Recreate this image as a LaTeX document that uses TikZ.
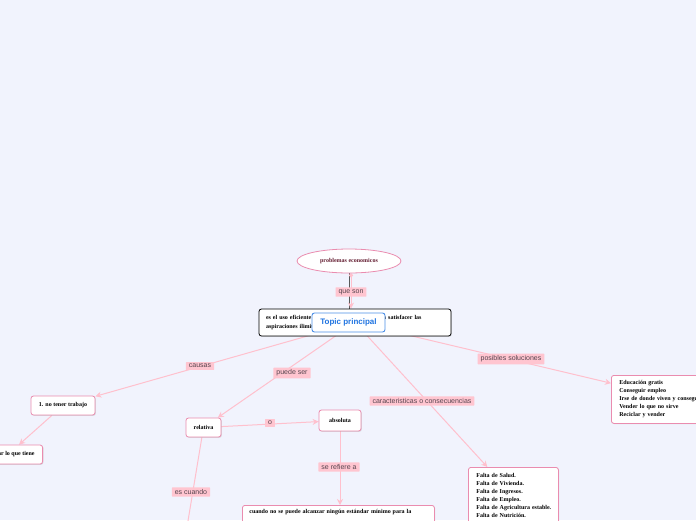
\documentclass[tikz,border=0pt]{standalone}
\usepackage{fontspec}
\setmainfont{Liberation Serif}
\setsansfont{Liberation Sans}
\usetikzlibrary{shapes.geometric,arrows.meta,shadows}
\definecolor{bgc}{RGB}{241,243,253}
\definecolor{pinkline}{RGB}{255,192,205}
\definecolor{nodeborder}{RGB}{234,140,175}
\definecolor{labelfill}{RGB}{255,197,208}
\definecolor{labeltext}{RGB}{85,68,78}
\definecolor{ellitext}{RGB}{100,30,50}
\definecolor{topicblue}{RGB}{30,115,225}
\pgfdeclarelayer{bglayer}
\pgfdeclarelayer{background}
\pgfsetlayers{bglayer,background,main}
\tikzset{
  mm/.style={draw=nodeborder, fill=white, rounded corners=2.5pt, line width=0.8pt,
    font=\fontsize{6}{8}\selectfont\bfseries, text=black,
    drop shadow={opacity=0.25, shadow xshift=0.8pt, shadow yshift=-0.8pt}},
  lbl/.style={fill=labelfill, text=labeltext, font=\sffamily\fontsize{7}{8}\selectfont,
    inner xsep=3pt, inner ysep=2pt, rounded corners=0.5pt},
  conn/.style={draw=pinkline, line width=1pt, -{Stealth[length=6pt,width=6pt]}},
  plainconn/.style={draw=pinkline, line width=1pt},
}
\begin{document}
\begin{tikzpicture}[x=1pt,y=-1pt]
\useasboundingbox (0,0) rectangle (696,520);
\begin{pgfonlayer}{bglayer}
\fill[bgc] (0,0) rectangle (696,520);
\end{pgfonlayer}

% nodes
\node[ellipse, draw=nodeborder, fill=white, line width=0.8pt, minimum width=104pt, minimum height=24pt,
  font=\fontsize{6}{7}\selectfont\bfseries, text=ellitext] (ell) at (349,261) {problemas economicos};

\node[draw=black, fill=white, rounded corners=2.5pt, line width=0.8pt, minimum width=192pt, minimum height=27pt,
  text width=178pt, align=left, font=\fontsize{6}{8.5}\selectfont\bfseries, inner sep=0pt,
  drop shadow={opacity=0.25, shadow xshift=0.8pt, shadow yshift=-0.8pt}] (main) at (355,322.5)
  {es el uso eficiente de los recursos escasos para satisfacer las\\aspiraciones ilimitadas};

\node[draw=topicblue!80, fill=white, rounded corners=2.5pt, line width=0.9pt, minimum width=73pt, minimum height=19pt,
  font=\sffamily\fontsize{8}{9}\selectfont\bfseries, text=topicblue] (topic) at (348.5,322.5) {Topic principal};

\node[mm, minimum width=64pt, minimum height=19pt] (n1) at (63,405.5) {1. no tener trabajo};
\node[mm, anchor=east, minimum height=19pt, inner xsep=8pt] (n2) at (43,454.5) {2. gastar lo que tiene};
\node[mm, minimum width=35pt, minimum height=19pt] (rel) at (203.5,427.5) {relativa};
\node[mm, minimum width=42pt, minimum height=21pt] (abs) at (340,420.5) {absoluta};
\node[mm, anchor=north west, minimum width=192pt, text width=178pt, align=left, inner xsep=7pt, inner ysep=4pt,
  font=\fontsize{6}{13}\selectfont\bfseries]
  (bot) at (242,505) {cuando no se puede alcanzar ningún estándar mínimo para la\\satisfacción de las necesidades};
\node[mm, anchor=north west, minimum width=90pt, text width=82pt, align=left, inner xsep=4pt, inner ysep=6pt]
  (falta) at (468,467) {\hspace*{4pt}Falta de Salud.\\\hspace*{4pt}Falta de Vivienda.\\\hspace*{4pt}Falta de Ingresos.\\\hspace*{4pt}Falta de Empleo.\\\hspace*{4pt}Falta de Agricultura estable.\\\hspace*{4pt}Falta de Nutrición.};
\node[mm, anchor=north west, minimum width=100pt, minimum height=48pt, text width=120pt, align=left, inner xsep=8pt, inner ysep=4pt]
  (sol) at (611,375) {Educación gratis\\Conseguir empleo\\Irse de donde viven y conseguir trabajo\\Vender lo que no sirve\\Reciclar y vender};
\coordinate (relchild) at (184,545);

% connectors
\begin{pgfonlayer}{background}
\draw[draw=gray!70!black, line width=0.9pt] (ell.south) -- (ell.south |- main.north);
\draw[draw=pinkline, line width=1pt, {Circle[length=4pt]}-{Stealth[length=6pt,width=6pt]}]
  ([xshift=2pt]ell.south) -- ([xshift=2pt]ell.south |- main.north);
\draw[conn] (main.center) -- (n1);
\draw[conn] (n1) -- (n2);
\draw[conn] (main.center) -- (rel);
\draw[conn] (rel) -- (abs);
\draw[conn] (abs) -- (abs.south |- bot.north);
\draw[plainconn] (rel) -- (relchild);
\draw[conn] (main.center) -- (falta);
\draw[conn] (main.center) -- (sol);
\end{pgfonlayer}

% labels
\node[lbl] (lqueson) at (351,292) {que son};
\node[lbl] (lcausas) at (200,366) {causas};
\node[lbl] (lpuede) at (292,373) {puede ser};
\node[lbl] (lo) at (270,423) {o};
\node[lbl] (lrefiere) at (339,467) {se refiere a};
\node[lbl] (lescuando) at (191,492) {es cuando};
\node[lbl] (lcarac) at (422,401) {caracteristicas o consecuencias};
\node[lbl] (lsol) at (511,359) {posibles soluciones};
\end{tikzpicture}
\end{document}
